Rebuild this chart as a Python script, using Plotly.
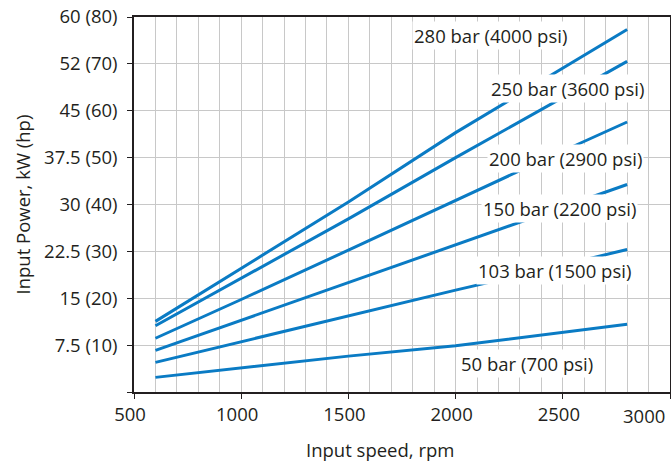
import plotly.graph_objects as go

rpm = [600, 1000, 1500, 2000, 2400, 2800]
p280 = [11.3, 19.8, 30.4, 41.5, 49.7, 58.0]
p250 = [10.6, 18.2, 27.7, 37.5, 45.2, 52.9]
p200 = [8.6, 14.8, 22.7, 30.7, 37.0, 43.2]
p150 = [6.65, 11.5, 17.5, 23.5, 28.4, 33.2]
p103 = [4.74, 8.05, 12.1, 16.3, 19.5, 22.8]
p50 = [2.34, 3.85, 5.74, 7.4, 9.1, 10.85]

series = [p280, p250, p200, p150, p103, p50]
labels = ["280 bar (4000 psi)", "250 bar (3600 psi)", "200 bar (2900 psi)",
          "150 bar (2200 psi)", "103 bar (1500 psi)", "50 bar (700 psi)"]
label_x = [2162, 2520, 2512, 2483, 2463, 2334]
label_y = [57.1, 48.5, 37.3, 29.3, 19.5, 4.6]

y_ticks = [0, 7.5, 15, 22.5, 30, 37.5, 45, 52.5, 60]
y_ticktext = ["", "7.5 (10)", "15 (20)", "22.5 (30)", "30 (40)", "37.5 (50)",
              "45 (60)", "52 (70)", "60 (80)"]
x_ticks = [500, 1000, 1500, 2000, 2500, 3000]
x_ticktext = ["500", "1000", "1500", "2000", "2500", ""]

FONT = "Open Sans"
TXT = "#231f20"
BLUE = "#0a7bc4"
FS = 18.5

fig = go.Figure()
for s in series:
    fig.add_trace(go.Scatter(x=rpm, y=s, mode="lines",
                             line=dict(color=BLUE, width=3),
                             showlegend=False, hoverinfo="skip"))

for t, lx, ly in zip(labels, label_x, label_y):
    fig.add_annotation(x=lx, y=ly, text=t, showarrow=False,
                       font=dict(family=FONT, size=FS, color=TXT),
                       bgcolor="white", borderpad=1)

fig.add_annotation(xref="paper", yref="paper", x=1, xshift=-3, y=0, yshift=-9,
                   xanchor="right", yanchor="top", text="3000", showarrow=False,
                   font=dict(family=FONT, size=FS, color=TXT))
fig.add_annotation(xref="paper", yref="paper", x=0.459, y=0, yshift=-43,
                   xanchor="center", yanchor="top", text="Input speed, rpm",
                   showarrow=False, font=dict(family=FONT, size=FS, color=TXT))
fig.add_annotation(xref="paper", yref="paper", x=0, xshift=-112, y=0.50,
                   xanchor="center", yanchor="middle", textangle=-90,
                   text="Input Power, kW (hp)", showarrow=False,
                   font=dict(family=FONT, size=FS, color=TXT))

fig.update_layout(
    width=671, height=461,
    margin=dict(l=134, r=1, t=17, b=69),
    paper_bgcolor="white", plot_bgcolor="white",
    font=dict(family=FONT, size=FS, color=TXT),
    xaxis=dict(range=[500, 3000], tickvals=x_ticks, ticktext=x_ticktext,
               automargin=False, ticklabelshift=-4,
               showgrid=True, gridcolor="#c8c8c8", gridwidth=1,
               minor=dict(dtick=100, tick0=500, showgrid=True,
                          gridcolor="#c8c8c8", gridwidth=1),
               showline=True, linecolor="#231f20", linewidth=1.5, mirror=True,
               ticks="outside", ticklen=5, tickcolor="#231f20",
               zeroline=False),
    yaxis=dict(range=[0, 60], tickvals=y_ticks, ticktext=y_ticktext,
               automargin=False, ticklabelstandoff=6,
               showgrid=True, gridcolor="#c8c8c8", gridwidth=1,
               showline=True, linecolor="#231f20", linewidth=1.5, mirror=True,
               ticks="outside", ticklen=5, tickcolor="#231f20",
               zeroline=False),
)

fig.write_html("out.html", config={"displayModeBar": False},
               post_script="document.body.style.margin='0';document.body.style.overflow='hidden';")
